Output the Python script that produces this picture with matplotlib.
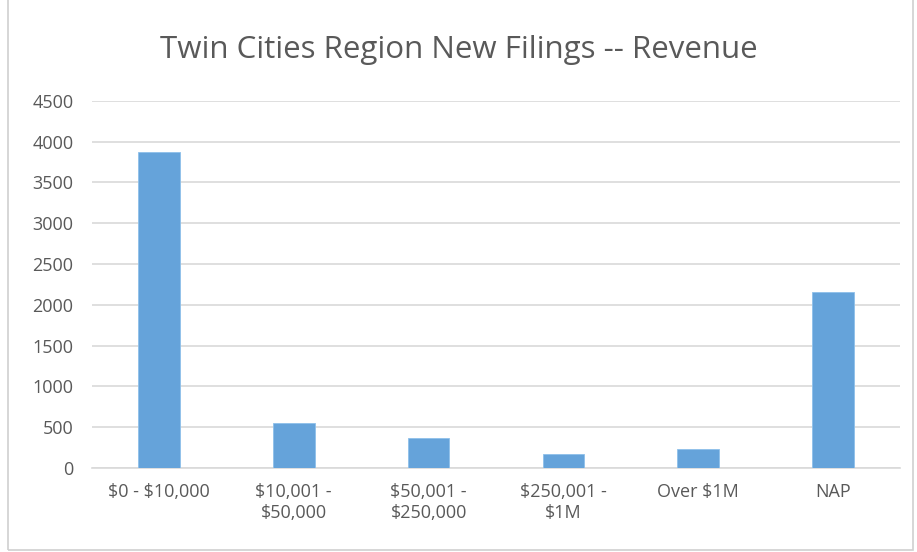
import matplotlib.pyplot as plt
from matplotlib.patches import Rectangle

# Values
categories = ["$0 - $10,000", "$10,001 -\n$50,000", "$50,001 -\n$250,000",
              "$250,001 -\n$1M", "Over $1M", "NAP"]
filings = [3870, 556, 366, 174, 232, 2155]
y_ticks = [0, 500, 1000, 1500, 2000, 2500, 3000, 3500, 4000, 4500]

plt.rcParams['font.family'] = ['Open Sans', 'DejaVu Sans']
plt.rcParams['text.parse_math'] = False

fig = plt.figure(figsize=(9.17, 5.52), dpi=100)
ax = fig.add_axes([0.0999, 0.152, 0.882, 0.6656])

x = list(range(len(categories)))
ax.bar(x, filings, width=0.31, color="#65a3da", edgecolor="#8ec0ea", linewidth=0.6, zorder=3)

ax.set_xlim(-0.5, len(categories) - 0.5)
ax.set_ylim(0, 4500)
ax.set_yticks(y_ticks)
ax.set_xticks(x)
ax.set_xticklabels(categories)
ax.grid(axis="y", color="#d9d9d9", linewidth=1.2, zorder=0)
for side in ["top", "right", "left"]:
    ax.spines[side].set_visible(False)
ax.spines["bottom"].set_color("#d9d9d9")
ax.spines["bottom"].set_linewidth(1.2)
ax.tick_params(axis="y", length=0, pad=13, labelsize=13, labelcolor="#595959")
ax.tick_params(axis="x", length=0, pad=11, labelsize=13, labelcolor="#595959")

fig.text(0.5, 0.91, "Twin Cities Region New Filings -- Revenue", ha="center", va="center",
         fontsize=22.5, color="#595959")

# outer chart border
fig.patches.append(Rectangle((0.009, 0.003), 0.987, 1.2, transform=fig.transFigure,
                             fill=False, edgecolor="#d0d0d0", linewidth=1.2))

fig.savefig("out.png", dpi=100)
